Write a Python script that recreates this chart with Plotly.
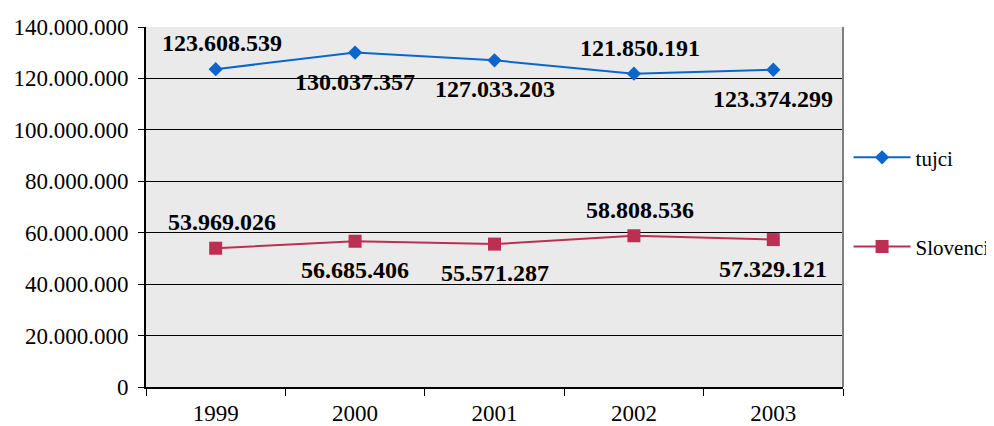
import plotly.graph_objects as go

years = ["1999", "2000", "2001", "2002", "2003"]
tujci = [123608539, 130037357, 127033203, 121850191, 123374299]
slovenci = [53969026, 56685406, 55571287, 58808536, 57329121]
tujci_pos = ["above", "below", "below", "above", "below"]
slovenci_pos = ["above", "below", "below", "above", "below"]
y_ticks = [0, 20000000, 40000000, 60000000, 80000000, 100000000, 120000000, 140000000]

BLUE = "#0A66CC"
RED = "#BC2F52"
FONT = "Liberation Serif"


def fmt(v):
    return f"{v:,}".replace(",", ".")


xs = list(range(len(years)))
bounds = [i - 0.5 for i in range(len(years) + 1)]

fig = go.Figure()
fig.add_trace(go.Scatter(
    x=xs, y=tujci, name="tujci", mode="lines+markers",
    line=dict(color=BLUE, width=2),
    marker=dict(symbol="diamond", size=11, color=BLUE),
    legendgroup="a",
))
fig.add_trace(go.Scatter(
    x=xs, y=slovenci, name="Slovenci", mode="lines+markers",
    line=dict(color=RED, width=2),
    marker=dict(symbol="square", size=13, color=RED),
    legendgroup="b",
))

annotations = []
for series, pos in ((tujci, tujci_pos), (slovenci, slovenci_pos)):
    for x, v, p in zip(xs, series, pos):
        annotations.append(dict(
            x=x, y=v, text=f"<b>{fmt(v)}</b>", showarrow=False,
            yshift=26 if p == "above" else -29,
            xshift=6 if p == "above" else 0,
            font=dict(family=FONT, size=24, color="#000000"),
        ))

fig.update_layout(
    width=994, height=426,
    margin=dict(l=138, r=159, t=19, b=47, autoexpand=False),
    paper_bgcolor="white", plot_bgcolor="#EAEAEA",
    font=dict(family=FONT, size=23, color="#000000"),
    annotations=annotations,
    showlegend=True,
    legend=dict(
        x=1.008, xanchor="left", y=0.694, yanchor="top",
        font=dict(family=FONT, size=21, color="#000000"),
        tracegroupgap=59, bgcolor="rgba(0,0,0,0)", itemwidth=57,
    ),
    shapes=[dict(type="line", xref="paper", yref="paper", x0=1, x1=1, y0=0, y1=1,
                 line=dict(color="#808080", width=2))],
)
fig.update_xaxes(
    range=[bounds[0], bounds[-1]], tickvals=xs, ticktext=years,
    ticks="", showline=True, linecolor="#000000", linewidth=2,
    showgrid=False, zeroline=False, tickangle=0, automargin=False,
    ticklabelstandoff=4,
    tickfont=dict(family=FONT, size=23),
    minor=dict(tickvals=bounds, ticks="outside", ticklen=7, tickcolor="#000000", showgrid=False),
)
fig.update_yaxes(
    range=[0, 140000000], tickvals=y_ticks,
    ticktext=[fmt(v) for v in y_ticks],
    ticks="outside", ticklen=6, tickcolor="#000000",
    showline=True, linecolor="#000000", linewidth=2,
    showgrid=True, gridcolor="#000000", gridwidth=1,
    zeroline=False, automargin=False, ticklabelstandoff=5,
    tickfont=dict(family=FONT, size=23),
)

fig.write_html("out.html")
